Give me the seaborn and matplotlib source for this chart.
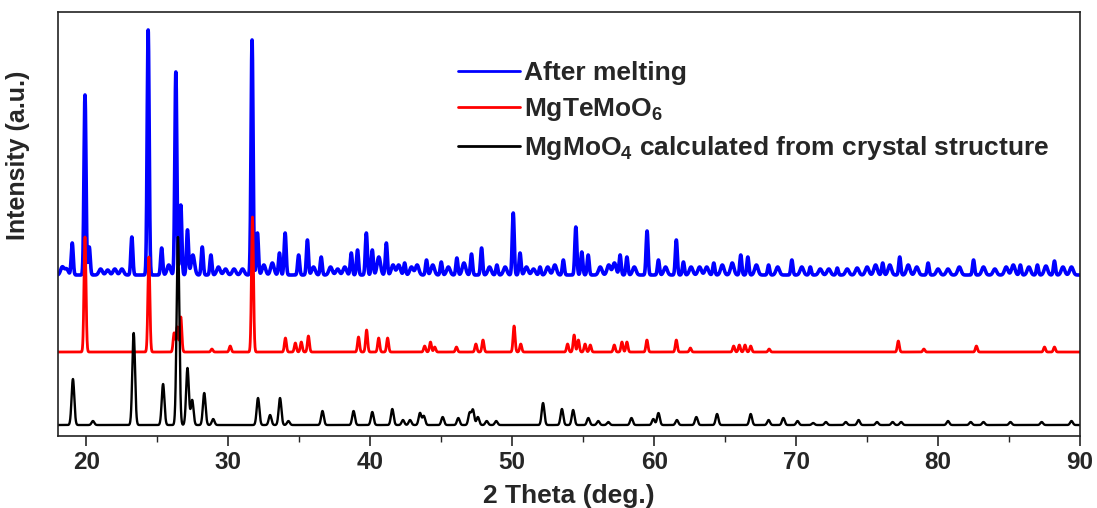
import numpy as np
import pandas as pd
import matplotlib
matplotlib.use("Agg")
import matplotlib.pyplot as plt
import seaborn as sns

# Peak positions (2 theta, deg.) and heights (a.u.)

# After melting (blue)
melt_pos = [19.0, 19.9, 20.2, 23.2, 24.35, 25.3, 26.3, 26.65, 27.12, 28.16, 28.77,
            31.67, 32.05, 33.6, 34.0, 34.95, 35.57, 36.54, 38.66, 39.1, 39.72, 40.14,
            41.13, 42.42, 43.96, 45.0, 46.1, 47.13, 47.84, 48.92, 50.07, 50.55, 51.96,
            53.6, 54.48, 54.9, 55.35, 57.6, 58.08, 59.5, 60.3, 61.56, 62.06, 64.2,
            66.1, 66.6, 68.06, 69.7, 71.0, 72.9, 76.1, 77.3, 79.3, 82.5, 85.8, 87.0, 88.2]
melt_int = [32, 180, 28, 38, 245, 27, 203, 70, 45, 28, 20,
            235, 42, 22, 42, 20, 35, 18, 22, 25, 42, 25,
            32, 12, 15, 13, 17, 21, 27, 10, 62, 22, 8,
            15, 48, 23, 20, 20, 18, 44, 15, 35, 13, 12,
            20, 18, 10, 15, 8, 7, 12, 18, 12, 15, 10, 10, 14]
# weaker, broader bumps on the noisy background of the blue pattern
melt_bump_pos = [18.3, 18.6, 21.0, 21.5, 22.0, 22.5, 25.8, 27.5, 29.3, 29.8, 30.4, 31.0,
                 32.5, 33.1, 36.0, 37.2, 37.7, 38.2, 40.6, 41.6, 42.0, 42.9, 43.3, 44.4,
                 45.5, 46.6, 48.4, 49.5, 51.0, 51.5, 52.5, 53.0, 56.2, 56.8, 57.2, 58.6,
                 60.8, 62.6, 63.2, 63.7, 64.8, 65.5, 67.2, 68.7, 70.4, 71.7, 72.3, 73.6,
                 74.3, 75.0, 75.6, 76.6, 77.9, 78.5, 80.0, 80.7, 81.5, 83.2, 84.0, 84.8,
                 85.3, 86.4, 87.6, 88.8, 89.4]
melt_bump_int = [8, 6, 6, 5, 6, 6, 10, 20, 8, 6, 6, 6,
                 10, 12, 8, 8, 6, 8, 18, 10, 10, 8, 10, 10,
                 8, 12, 8, 8, 8, 6, 8, 10, 8, 10, 12, 8,
                 8, 8, 8, 8, 10, 12, 10, 8, 8, 6, 6, 6,
                 7, 8, 10, 10, 10, 8, 6, 6, 8, 8, 6, 8,
                 10, 8, 9, 8, 8]

# MgTeMoO6 (red)
tm_pos = [19.9, 24.4, 26.18, 26.4, 26.65, 28.84, 30.13, 31.7, 34.02, 34.72, 35.14,
          35.64, 39.17, 39.74, 40.59, 41.22, 43.83, 44.24, 44.54, 46.07, 47.44, 47.94,
          50.13, 50.6, 53.9, 54.36, 54.66, 55.13, 55.5, 57.19, 57.73, 58.08, 59.49,
          61.56, 62.55, 65.6, 66.0, 66.4, 66.8, 68.1, 77.2, 79.0, 82.7, 87.5, 88.2]
tm_int = [115, 95, 19, 25, 35, 3, 6, 135, 14, 9, 10,
          16, 15, 22, 14, 14, 6, 10, 5, 5, 8, 12,
          26, 8, 8, 17, 12, 8, 7, 7, 10, 10, 12,
          12, 4, 6, 7, 7, 6, 3, 11, 3, 6, 5, 5]

# MgMoO4 calculated from crystal structure (black)
mm_pos = [19.05, 20.46, 23.33, 25.4, 26.45, 27.12, 27.45, 28.3, 28.93, 32.09, 32.94,
          33.64, 34.23, 36.63, 38.82, 40.14, 41.55, 42.3, 42.8, 43.5, 43.77, 45.1,
          46.2, 47.0, 47.23, 47.58, 48.2, 48.87, 52.17, 53.5, 54.29, 55.36, 56.06,
          56.77, 58.4, 59.94, 60.3, 61.6, 62.97, 64.43, 66.8, 68.06, 69.1, 70.1, 71.2,
          72.1, 73.5, 74.4, 75.7, 76.8, 77.4, 80.7, 82.3, 83.2, 85.1, 87.3, 89.4]
mm_int = [46, 4, 92, 41, 188, 57, 25, 32, 6, 27, 10,
          27, 4, 14, 14, 13, 16, 5, 5, 12, 9, 8,
          7, 12, 15, 8, 4, 4, 22, 16, 15, 7, 4,
          3, 7, 6, 12, 5, 8, 11, 11, 5, 7, 4, 2,
          3, 3, 5, 3, 3, 3, 4, 3, 3, 3, 3, 4]

labels = ["After melting", r"MgTeMoO$_6$", r"MgMoO$_4$ calculated from crystal structure"]


def pattern(x, base, pos, inten, width):
    y = np.full_like(x, base)
    for p, h in zip(pos, inten):
        y += h * np.exp(-0.5 * ((x - p) / width) ** 2)
    return y


sns.set_theme(style="white")
plt.rcParams["font.family"] = ["Liberation Sans", "DejaVu Sans"]
plt.rcParams["font.weight"] = "bold"
plt.rcParams["mathtext.fontset"] = "custom"
plt.rcParams["mathtext.rm"] = "Liberation Sans:bold"
plt.rcParams["mathtext.it"] = "Liberation Sans:bold"
plt.rcParams["mathtext.bf"] = "Liberation Sans:bold"

x = np.linspace(18, 90, 7201)
blue = pattern(x, 161, melt_pos, melt_int, 0.07) + pattern(x, 0, melt_bump_pos, melt_bump_int, 0.12)
red = pattern(x, 84, tm_pos, tm_int, 0.07)
black = pattern(x, 11, mm_pos, mm_int, 0.095)

df = pd.DataFrame({"theta": np.tile(x, 3),
                   "intensity": np.concatenate([blue, red, black]),
                   "sample": np.repeat(labels, len(x))})

fig = plt.figure(figsize=(10.97, 5.08), dpi=100)
ax = fig.add_axes([0.0529, 0.1417, 0.9316, 0.8347])

widths = {labels[0]: 2.6, labels[1]: 2.0, labels[2]: 1.7}
colors = {labels[0]: "#0000ff", labels[1]: "#ff0000", labels[2]: "#000000"}
for lab in labels:
    sub = df[df["sample"] == lab]
    sns.lineplot(data=sub, x="theta", y="intensity", ax=ax, color=colors[lab],
                 lw=widths[lab], label=lab, estimator=None, sort=False)

ax.set_xlim(18, 90)
ax.set_ylim(0, 424)
ax.set_yticks([])
ax.set_xticks(range(20, 91, 10))
ax.set_xticks(range(25, 90, 10), minor=True)
ax.tick_params(axis="x", which="major", direction="out", length=7, width=1.2,
               labelsize=17.5, bottom=True, top=False, pad=4)
ax.tick_params(axis="x", which="minor", direction="out", length=4, width=1.0,
               bottom=True, top=False)
for t in ax.get_xticklabels():
    t.set_fontweight("bold")
for s in ax.spines.values():
    s.set_color("#222222")
    s.set_linewidth(1.2)

ax.set_xlabel("2 Theta (deg.)", fontsize=19, fontweight="bold", labelpad=7)
ax.set_ylabel("Intensity (a.u.)", fontsize=18, fontweight="bold")
ax.yaxis.set_label_coords(-0.027, 0.663)

leg = ax.legend(loc="upper left", bbox_to_anchor=(0.391, 0.885), frameon=False,
                fontsize=19, handlelength=2.35, handletextpad=0.15,
                labelspacing=0.42, borderpad=0, borderaxespad=0)
for line in leg.get_lines():
    line.set_linewidth(2.0)

fig.savefig("out.png", dpi=100)
